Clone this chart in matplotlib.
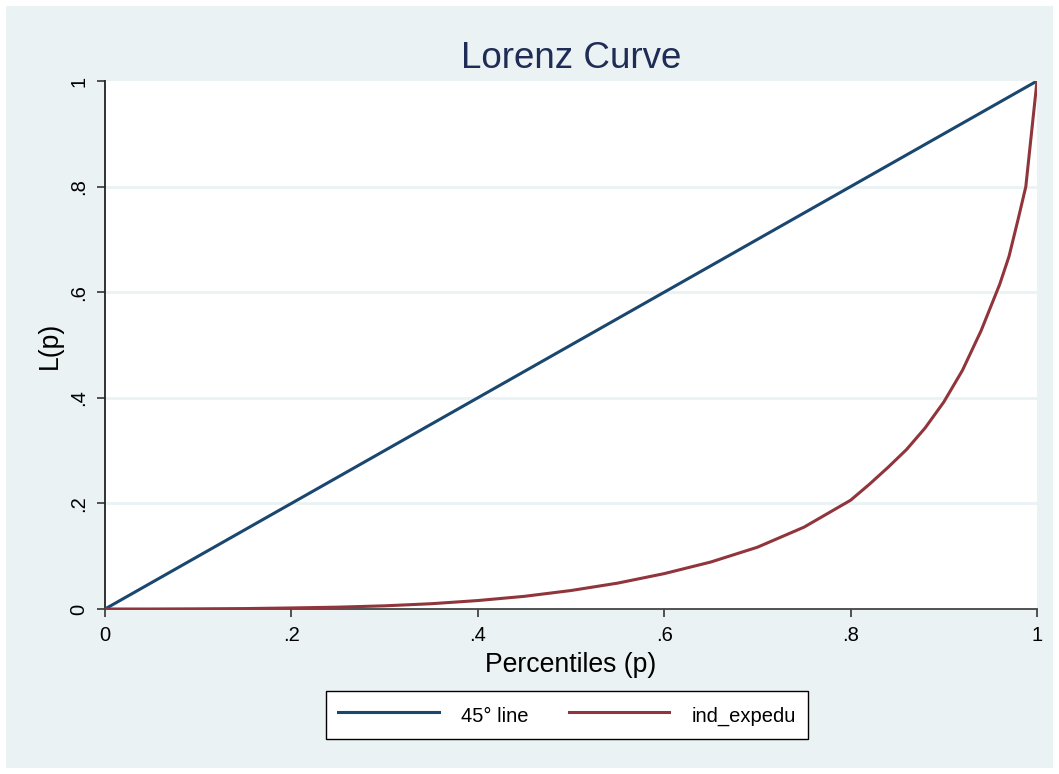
import matplotlib
matplotlib.use("Agg")
import matplotlib.pyplot as plt
from matplotlib.patches import Rectangle

# Data
p_line = [0.0, 1.0]
l_line = [0.0, 1.0]

p_curve = [0.0, 0.05, 0.10, 0.15, 0.20, 0.25, 0.30, 0.35, 0.40, 0.45, 0.50,
           0.55, 0.60, 0.65, 0.70, 0.75, 0.80, 0.82, 0.84, 0.86, 0.88, 0.90,
           0.92, 0.94, 0.96, 0.97, 0.98, 0.988, 1.0]
l_curve = [0.0, 0.0, 0.0003, 0.0008, 0.002, 0.0035, 0.006, 0.010, 0.016, 0.024, 0.035,
           0.049, 0.067, 0.089, 0.117, 0.155, 0.206, 0.236, 0.268, 0.302, 0.343, 0.392,
           0.452, 0.527, 0.615, 0.668, 0.740, 0.80, 1.0]

xticks = [0, 0.2, 0.4, 0.6, 0.8, 1.0]
xtick_labels = ["0", ".2", ".4", ".6", ".8", "1"]
yticks = [0, 0.2, 0.4, 0.6, 0.8, 1.0]
ytick_labels = ["0", ".2", ".4", ".6", ".8", "1"]

series_names = ["45° line", "ind_expedu"]
title = "Lorenz Curve"
xlabel = "Percentiles (p)"
ylabel = "L(p)"

plt.rcParams['font.family'] = ['Liberation Sans', 'DejaVu Sans']

BG = "#EAF2F3"
BLUE = "#1A476F"
RED = "#90353B"

W, H = 1059, 774
fig = plt.figure(figsize=(W / 100, H / 100), dpi=100, facecolor="white")
fig.patches.append(Rectangle((6 / W, 6 / H), (W - 12) / W, (H - 12) / H,
                             transform=fig.transFigure, facecolor=BG,
                             edgecolor="none", zorder=-10))

ax = fig.add_axes([105 / W, 1 - 609 / H, (1037 - 105) / W, (609 - 81) / H])
ax.set_facecolor("white")

ax.plot(p_line, l_line, color=BLUE, lw=2.2, label=series_names[0], zorder=3)
ax.plot(p_curve, l_curve, color=RED, lw=2.2, label=series_names[1], zorder=3)

ax.set_xlim(0, 1)
ax.set_ylim(0, 1)
ax.set_xticks(xticks)
ax.set_xticklabels(xtick_labels, fontsize=14.5)
ax.set_yticks(yticks)
ax.set_yticklabels(ytick_labels, fontsize=14.5, rotation=90, va="center")

for y in yticks[1:-1]:
    ax.axhline(y, color=BG, lw=2, zorder=1)

for s in ["top", "right"]:
    ax.spines[s].set_visible(False)
ax.spines["left"].set_color("#222222")
ax.spines["bottom"].set_color("#444444")
ax.spines["left"].set_linewidth(1.3)
ax.spines["bottom"].set_linewidth(1.3)
ax.tick_params(direction="out", length=6, width=1.3, color="#444444", pad=6)

ax.set_title(title, fontsize=26.5, color="#1F2D56", pad=9)
ax.set_xlabel(xlabel, fontsize=19.2, labelpad=5)
ax.set_ylabel(ylabel, fontsize=19.2, labelpad=5)

leg = fig.legend(loc="center", bbox_to_anchor=(567 / W, 1 - 715 / H), ncol=2,
                 fontsize=14.5, frameon=True, fancybox=False, framealpha=1,
                 handlelength=5.0, handleheight=1.55, handletextpad=1.1,
                 columnspacing=2.0, borderpad=0.58, borderaxespad=0)
leg.get_frame().set_edgecolor("black")
leg.get_frame().set_linewidth(1.0)
for h in leg.get_lines():
    h.set_linewidth(2.2)

fig.savefig("out.png", dpi=100, facecolor="white")
